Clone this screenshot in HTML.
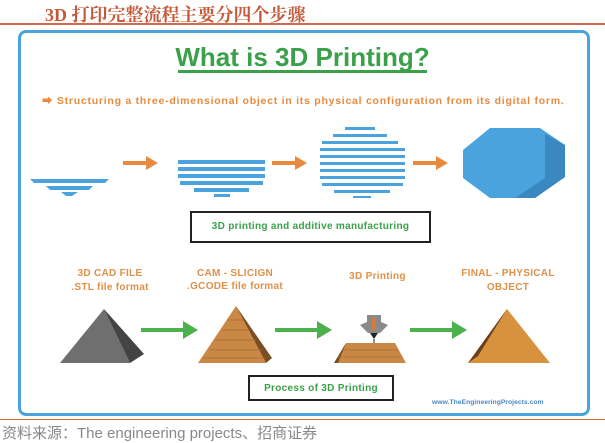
<!DOCTYPE html><html><head><style>
body{margin:0;width:605px;height:439px;background:#fff;position:relative;overflow:hidden;font-family:"Liberation Sans","Noto Sans CJK SC",sans-serif}
.a{position:absolute}
</style></head><body>
<div class="a" style="left:45px;top:1px;font-size:18px;font-weight:bold;color:#c45a3a;font-family:'Liberation Serif','Noto Serif CJK SC',serif">3D 打印完整流程主要分四个步骤</div>
<div class="a" style="left:0;top:23px;width:605px;height:2px;background:#d2694a"></div>
<div class="a" style="left:18px;top:30px;width:566px;height:380px;border:3px solid #4aa3dc;border-radius:8px"></div>
<div class="a" style="left:0;width:605px;top:42px;text-align:center;font-size:26px;font-weight:bold;color:#3aa04a">What is 3D Printing?</div>
<div class="a" style="left:178px;top:70px;width:249px;height:3px;background:#3aa04a"></div>
<div class="a" style="left:42px;top:93px;font-size:10.5px;letter-spacing:0.75px;font-weight:bold;color:#e98a3e;white-space:nowrap">➡ Structuring a three-dimensional object in its physical configuration from its digital form.</div>
<svg class="a" style="left:0;top:0" width="605" height="439">
<g fill="#4aa3dc">
<polygon points="30,179 109,179 105,183 34,183"/><polygon points="46,186 93,186 89,190 50,190"/><polygon points="61,192 78,192 72,196 66,196"/>
<rect x="178" y="160" width="87" height="4"/><rect x="178" y="167" width="87" height="4"/><rect x="178" y="174" width="87" height="4"/><rect x="180" y="181" width="83" height="4"/><rect x="194" y="188" width="55" height="4"/><rect x="214" y="194" width="16" height="3"/>
<rect x="345" y="127" width="30" height="3"/><rect x="333" y="134" width="54" height="3"/><rect x="322" y="141" width="76" height="3"/>
<rect x="320" y="148" width="85" height="3"/><rect x="320" y="155" width="85" height="3"/><rect x="320" y="162" width="85" height="3"/><rect x="320" y="169" width="85" height="3"/><rect x="320" y="176" width="85" height="3"/><rect x="322" y="183" width="81" height="3"/><rect x="334" y="190" width="56" height="3"/><rect x="353" y="196" width="18" height="2"/>
<polygon points="463,150 490,128 540,128 565,145 565,177 535,198 490,198 463,178"/>
</g>
<polygon points="545,134 565,145 565,177 535,198 515,198 545,178" fill="#3a88c0"/>
<g fill="#e98a3e"><rect x="123" y="161" width="25" height="4"/><polygon points="146,156 158,163 146,170"/>
<rect x="272" y="161" width="25" height="4"/><polygon points="295,156 307,163 295,170"/>
<rect x="413" y="161" width="25" height="4"/><polygon points="436,156 448,163 436,170"/></g>
<g fill="#4cb04c"><rect x="141" y="328" width="44" height="4"/><polygon points="183,321 198,330 183,339"/>
<rect x="275" y="328" width="44" height="4"/><polygon points="317,321 332,330 317,339"/>
<rect x="410" y="328" width="44" height="4"/><polygon points="452,321 467,330 452,339"/></g>
<polygon points="104,309 60,363 130,363" fill="#6f6f70"/><polygon points="104,309 130,363 144,354" fill="#444"/>
<polygon points="236,306 198,363 266,363" fill="#c98845"/><polygon points="236,306 266,363 272,358" fill="#7a4e22"/>
<g stroke="#a86b30" stroke-width="0.8"><line x1="228" y1="320" x2="244" y2="320"/><line x1="222" y1="330" x2="250" y2="330"/><line x1="215" y1="340" x2="256" y2="340"/><line x1="209" y1="350" x2="262" y2="350"/><line x1="203" y1="358" x2="266" y2="358"/></g>
<polygon points="346,343 395,343 406,363 334,363" fill="#c98845"/><polygon points="346,343 334,363 338,363" fill="#7a4e22"/>
<g stroke="#a86b30" stroke-width="0.8"><line x1="342" y1="350" x2="398" y2="350"/><line x1="338" y1="357" x2="402" y2="357"/></g>
<polygon points="367,315 381,315 381,322 388,325 380,333 368,333 360,325 367,322" fill="#8a8a8a"/><rect x="372" y="318" width="4" height="12" fill="#d87a3a"/><polygon points="370,333 378,333 374,339" fill="#222"/><line x1="374" y1="339" x2="374" y2="343" stroke="#222"/>
<polygon points="507,309 468,363 550,363" fill="#d8923f"/><polygon points="507,309 468,363 478,356" fill="#6a4018"/>
</svg>
<div class="a" style="left:190px;top:211px;width:241px;height:32px;border:2px solid #222;box-sizing:border-box;text-align:center;line-height:28px;font-size:10px;font-weight:bold;color:#3aa04a;letter-spacing:0.3px">3D printing and additive manufacturing</div>
<div class="a" style="left:40px;top:267px;width:140px;text-align:center;font-size:10px;font-weight:bold;color:#e09048;line-height:14px;letter-spacing:0.3px">3D CAD FILE<br>.STL file format</div>
<div class="a" style="left:165px;top:267px;width:140px;text-align:center;font-size:10px;font-weight:bold;color:#e09048;line-height:13px;letter-spacing:0.3px">CAM - SLICIGN<br>.GCODE file format</div>
<div class="a" style="left:310px;top:271px;width:135px;text-align:center;font-size:10px;font-weight:bold;color:#e09048;letter-spacing:0.3px">3D Printing</div>
<div class="a" style="left:438px;top:267px;width:140px;text-align:center;font-size:10px;font-weight:bold;color:#e09048;line-height:14px;letter-spacing:0.3px">FINAL - PHYSICAL<br>OBJECT</div>
<div class="a" style="left:248px;top:375px;width:146px;height:26px;border:2px solid #222;box-sizing:border-box;text-align:center;line-height:23px;font-size:10px;font-weight:bold;color:#3aa04a;letter-spacing:0.3px">Process of 3D Printing</div>
<div class="a" style="left:432px;top:399px;font-size:6.8px;font-weight:bold;color:#4a8ac8">www.TheEngineeringProjects.com</div>
<div class="a" style="left:0;top:419px;width:605px;height:1px;background:#d2694a"></div>
<div class="a" style="left:2px;top:422px;font-size:15px;color:#888">资料来源：The engineering projects、招商证券</div>
</body></html>
